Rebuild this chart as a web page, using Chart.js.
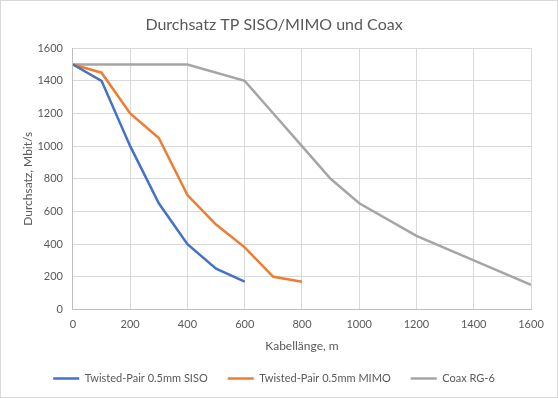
<!DOCTYPE html>
<html>
<head>
<meta charset="utf-8">
<script src="https://cdn.jsdelivr.net/npm/chart.js@4.4.1/dist/chart.umd.min.js"></script>
<style>
  body { margin: 0; background: #fff; }
  #wrap { width: 558px; height: 398px; border: 1px solid #d9d9d9; box-sizing: border-box; }
</style>
</head>
<body>
<div id="wrap"><canvas id="chart" width="556" height="396"></canvas></div>
<script>
// Kabellänge in m
const sisoX = [0, 100, 200, 300, 400, 500, 600];
const sisoY = [1500, 1400, 1000, 650, 400, 250, 170];

const mimoX = [0, 100, 200, 300, 400, 500, 600, 700, 800];
const mimoY = [1500, 1450, 1200, 1050, 700, 520, 380, 200, 170];

const coaxX = [0, 100, 200, 300, 400, 600, 700, 800, 900, 1000, 1200, 1400, 1600];
const coaxY = [1500, 1500, 1500, 1500, 1500, 1400, 1200, 1000, 800, 650, 450, 300, 150];

const seriesNames = ["Twisted-Pair 0.5mm SISO", "Twisted-Pair 0.5mm MIMO", "Coax RG-6"];

const textColor = "#595959";
const gridColor = "#d9d9d9";
const axisColor = "#bfbfbf";
const font = "Lato";

function toPoints(xs, ys) {
    return xs.map((x, i) => ({ x: x, y: ys[i] }));
}

function makeSet(label, xs, ys, color) {
    return {
        label: label,
        data: toPoints(xs, ys),
        borderColor: color,
        backgroundColor: color,
        borderWidth: 2.5,
        pointRadius: 0,
        pointStyle: "line",
        tension: 0,
        fill: false
    };
}

const ctx = document.getElementById("chart").getContext("2d");

new Chart(ctx, {
    type: "line",
    data: {
        datasets: [
            makeSet(seriesNames[0], sisoX, sisoY, "#4472c4"),
            makeSet(seriesNames[1], mimoX, mimoY, "#ed7d31"),
            makeSet(seriesNames[2], coaxX, coaxY, "#a5a5a5")
        ]
    },
    options: {
        responsive: false,
        animation: false,
        layout: {
            padding: { left: 16, right: 26, top: 0, bottom: 3 }
        },
        plugins: {
            title: {
                display: true,
                text: "Durchsatz TP SISO/MIMO und Coax",
                color: textColor,
                font: { family: font, size: 16, weight: "normal" },
                padding: { top: 14, bottom: 14 }
            },
            legend: {
                position: "bottom",
                labels: {
                    color: textColor,
                    font: { family: font, size: 11 },
                    usePointStyle: true,
                    pointStyleWidth: 26,
                    boxHeight: 11,
                    padding: 20
                }
            },
            tooltip: { enabled: false }
        },
        scales: {
            x: {
                type: "linear",
                min: 0,
                max: 1600,
                ticks: {
                    stepSize: 200,
                    color: textColor,
                    font: { family: font, size: 11 },
                    padding: 8,
                    callback: v => String(v)
                },
                grid: { color: gridColor, drawTicks: false },
                border: { color: axisColor },
                title: {
                    display: true,
                    text: "Kabellänge, m",
                    color: textColor,
                    font: { family: font, size: 12 },
                    padding: { top: 0, bottom: 0 }
                }
            },
            y: {
                min: 0,
                max: 1600,
                ticks: {
                    stepSize: 200,
                    color: textColor,
                    font: { family: font, size: 11 },
                    padding: 10,
                    callback: v => String(v)
                },
                grid: { color: gridColor, drawTicks: false },
                border: { color: axisColor },
                title: {
                    display: true,
                    text: "Durchsatz, Mbit/s",
                    color: textColor,
                    font: { family: font, size: 12 },
                    padding: { top: 4, bottom: -8 }
                }
            }
        }
    }
});
</script>
</body>
</html>
